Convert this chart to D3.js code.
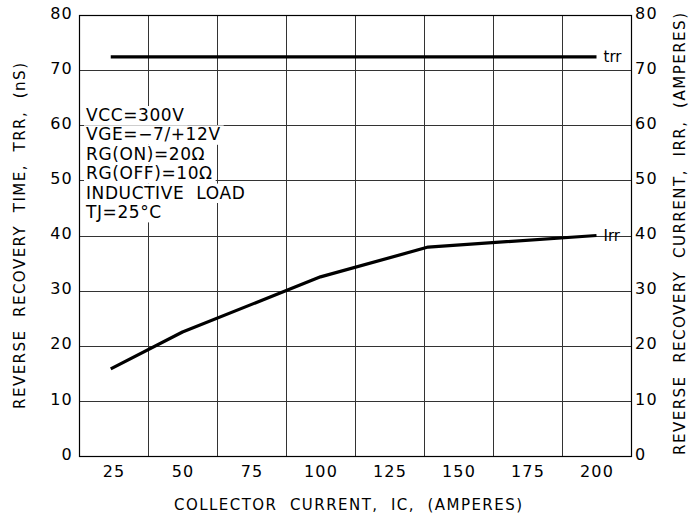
<!DOCTYPE html>
<html>
<head>
<meta charset="utf-8">
<script src="https://cdn.jsdelivr.net/npm/d3@7"></script>
<style>
  body { margin: 0; background: #fff; }
  text { font-family: 'DejaVu Sans', sans-serif; fill: #000; }
</style>
</head>
<body>
<div id="chart"></div>
<script>
// data
const xTicks = [25, 50, 75, 100, 125, 150, 175, 200];
const yTicks = [0, 10, 20, 30, 40, 50, 60, 70, 80];

const trrX = [24, 200];
const trrY = [72.4, 72.4];

const irrX = [24, 50, 100, 139, 200];
const irrY = [15.8, 22.5, 32.5, 37.9, 40.0];

const notes = ['VCC=300V', 'VGE=\u22127/+12V', 'RG(ON)=20\u03a9', 'RG(OFF)=10\u03a9', 'INDUCTIVE  LOAD', 'TJ=25\u00b0C'];

window.onload = function() {
	const width = 690;
	const height = 517;
	const margin = { top: 15, right: 59, bottom: 61, left: 79 };

	const svg = d3.select('#chart')
		.append('svg')
		.attr('width', width)
		.attr('height', height);

	const xScale = d3.scaleLinear()
		.domain([12.5, 212.5])
		.range([margin.left, width - margin.right]);

	const yScale = d3.scaleLinear()
		.domain([0, 80])
		.range([height - margin.bottom, margin.top]);

	// grid
	const grid = svg.append('g').attr('stroke', '#333').attr('stroke-width', 1);
	xTicks.slice(0, -1).forEach(t => {
		grid.append('line')
			.attr('x1', Math.round(xScale(t + 12.5)) + 0.5)
			.attr('x2', Math.round(xScale(t + 12.5)) + 0.5)
			.attr('y1', yScale(0))
			.attr('y2', yScale(80));
	});
	yTicks.slice(1, -1).forEach(t => {
		grid.append('line')
			.attr('x1', xScale(12.5))
			.attr('x2', xScale(212.5))
			.attr('y1', Math.round(yScale(t)) + 0.5)
			.attr('y2', Math.round(yScale(t)) + 0.5);
	});

	// notes with white boxes behind each line
	const noteG = svg.append('g');
	notes.forEach((n, i) => {
		const y = 121 + i * 19.4;
		const t = noteG.append('text')
			.attr('x', 86)
			.attr('y', y)
			.attr('font-size', 17)
			.attr('letter-spacing', 0.6)
			.style('white-space', 'pre')
			.text(n);
		const bb = t.node().getBBox();
		noteG.insert('rect', 'text')
			.attr('x', bb.x - 2)
			.attr('y', y - 15)
			.attr('width', bb.width + 5)
			.attr('height', 19.4)
			.attr('fill', '#fff');
	});

	// frame
	svg.append('rect')
		.attr('x', xScale(12.5) + 0.5)
		.attr('y', yScale(80) + 0.5)
		.attr('width', xScale(212.5) - xScale(12.5))
		.attr('height', yScale(0) - yScale(80))
		.attr('fill', 'none')
		.attr('stroke', '#000')
		.attr('stroke-width', 1.2);

	// axes labels
	const xAxis = d3.axisBottom(xScale).tickValues(xTicks).tickSize(0).tickPadding(10);
	const leftAxis = d3.axisLeft(yScale).tickValues(yTicks).tickSize(0).tickPadding(6);
	const rightAxis = d3.axisRight(yScale).tickValues(yTicks).tickSize(0).tickPadding(4);

	[
		svg.append('g').attr('transform', `translate(0, ${yScale(0)})`).call(xAxis),
		svg.append('g').attr('transform', `translate(${xScale(12.5)}, -2)`).call(leftAxis),
		svg.append('g').attr('transform', `translate(${xScale(212.5)}, -2)`).call(rightAxis)
	].forEach(g => {
		g.select('.domain').remove();
		g.selectAll('text')
			.attr('font-family', 'DejaVu Sans, sans-serif')
			.attr('font-size', 16)
			.attr('letter-spacing', 1.2)
			.attr('fill', '#000');
	});

	// curves
	const line = d3.line()
		.x(d => xScale(d[0]))
		.y(d => yScale(d[1]));

	svg.append('path')
		.attr('d', line(d3.zip(trrX, trrY)))
		.attr('fill', 'none')
		.attr('stroke', '#000')
		.attr('stroke-width', 3.2);

	svg.append('path')
		.attr('d', line(d3.zip(irrX, irrY)))
		.attr('fill', 'none')
		.attr('stroke', '#000')
		.attr('stroke-width', 3.2)
		.attr('stroke-linejoin', 'round');

	svg.append('text')
		.attr('x', xScale(trrX[1]) + 7)
		.attr('y', yScale(trrY[1]) + 5)
		.attr('font-size', 15)
		.text('trr');

	svg.append('text')
		.attr('x', xScale(irrX[irrX.length - 1]) + 7)
		.attr('y', yScale(irrY[irrY.length - 1]) + 5)
		.attr('font-size', 15)
		.text('Irr');

	// titles
	svg.append('text')
		.attr('x', 348)
		.attr('y', 510)
		.attr('text-anchor', 'middle')
		.attr('font-size', 15)
		.attr('textLength', 348)
		.attr('lengthAdjust', 'spacing')
		.style('white-space', 'pre')
		.text('COLLECTOR  CURRENT,  IC,  (AMPERES)');

	svg.append('text')
		.attr('transform', 'translate(25, 236) rotate(-90)')
		.attr('text-anchor', 'middle')
		.attr('font-size', 15)
		.attr('textLength', 346)
		.attr('lengthAdjust', 'spacing')
		.style('white-space', 'pre')
		.text('REVERSE  RECOVERY  TIME,  TRR,  (nS)');

	svg.append('text')
		.attr('transform', 'translate(685, 234) rotate(-90)')
		.attr('text-anchor', 'middle')
		.attr('font-size', 15)
		.attr('textLength', 442)
		.attr('lengthAdjust', 'spacing')
		.style('white-space', 'pre')
		.text('REVERSE  RECOVERY  CURRENT,  IRR,  (AMPERES)');
};
</script>
</body>
</html>
